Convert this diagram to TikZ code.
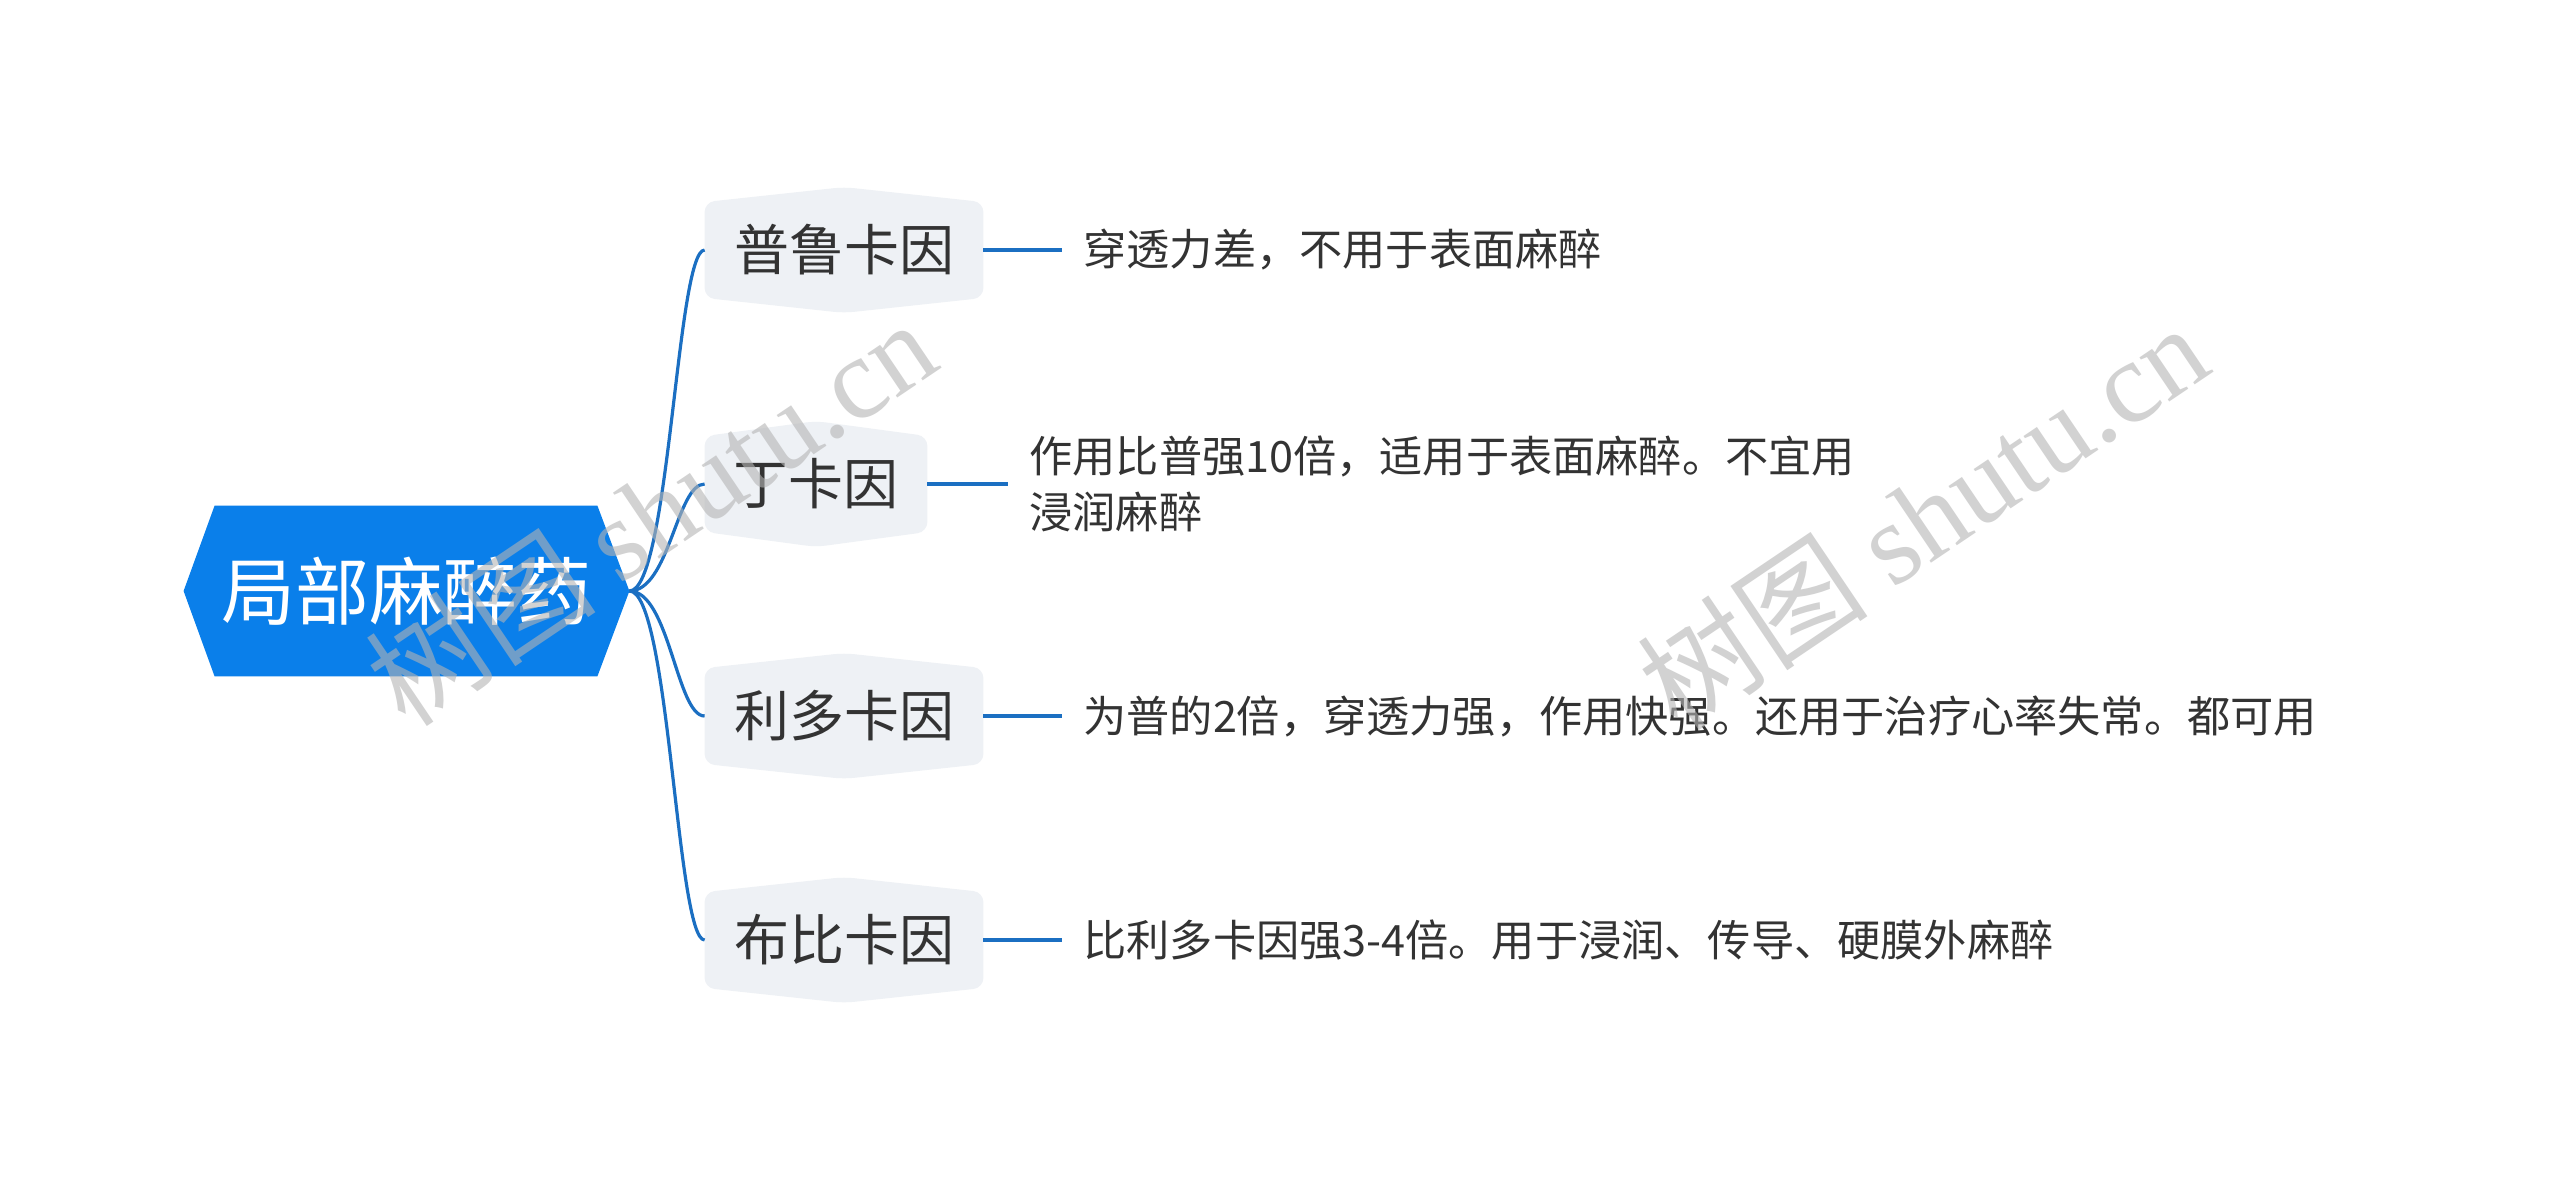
\documentclass[tikz,border=0pt]{standalone}
\usepackage{fontspec}
\setmainfont{Noto Sans CJK SC}
\newfontfamily\wmserif{Liberation Serif}
\usetikzlibrary{backgrounds}
\definecolor{rootblue}{HTML}{0A7FEA}
\definecolor{nodegray}{HTML}{EEF1F5}
\definecolor{linkblue}{HTML}{1B6FC2}
\definecolor{txt}{HTML}{333333}
\definecolor{wm}{HTML}{B4B4B4}
\newcommand\brshape[1]{%
  \fill[nodegray, rounded corners=5pt] (#1.west) -- (#1.north west) -- ([yshift=7.5pt]#1.north) -- (#1.north east) -- (#1.south east) -- ([yshift=-7.5pt]#1.south) -- (#1.south west) -- cycle;}
\begin{document}
\begin{tikzpicture}[x=0.5pt,y=-0.5pt,
  rootnode/.style={inner sep=0pt, minimum width=222.5pt, minimum height=85pt, text=white, font=\fontsize{37}{40}\selectfont},
  branch/.style={inner sep=0pt, minimum height=47.5pt, text=txt, font=\fontsize{27.5}{30}\selectfont},
  detail/.style={anchor=west, inner ysep=0pt, inner xsep=10.5pt, text=txt, font=\fontsize{21.6}{28}\selectfont, align=left},
  link/.style={draw=linkblue, line width=1.6pt},
  curve/.style={draw=linkblue, line width=1.6pt},
  watermark/.style={rotate=34, text=wm, opacity=0.6, font=\fontsize{58}{60}\selectfont}
]
\useasboundingbox (0,0) rectangle (2560,1185);

\node[rootnode] (root) at (406.5,591) {局部麻醉药};

\node[branch, minimum width=139pt] (b1) at (844,250) {普鲁卡因};
\node[branch, minimum width=111pt] (b2) at (816,484) {丁卡因};
\node[branch, minimum width=139pt] (b3) at (844,716) {利多卡因};
\node[branch, minimum width=139pt] (b4) at (844,940) {布比卡因};

\node[detail] (d1) at (1062,250) {穿透力差，不用于表面麻醉};
\node[detail] (d2) at (1008,484) {作用比普强10倍，适用于表面麻醉。不宜用\\浸润麻醉};
\node[detail] (d3) at (1062,716) {为普的2倍，穿透力强，作用快强。还用于治疗心率失常。都可用};
\node[detail] (d4) at (1062,940) {比利多卡因强3-4倍。用于浸润、传导、硬膜外麻醉};

\begin{scope}[on background layer]
  \fill[white] (0,0) rectangle (2560,1185);
  \fill[rootblue] (root.west) -- ([xshift=15.5pt]root.north west) -- ([xshift=-16pt]root.north east) -- (root.east) -- ([xshift=-16pt]root.south east) -- ([xshift=15.5pt]root.south west) -- cycle;
  \brshape{b1}
  \brshape{b2}
  \brshape{b3}
  \brshape{b4}
\end{scope}

\foreach \b in {b1,b2,b3,b4}{
  \draw[curve] (root.east) .. controls +(40,0) and +(-28,0) .. (\b.west);
}
\draw[link] (b1.east) -- (d1.west);
\draw[link] (b2.east) -- (d2.west);
\draw[link] (b3.east) -- (d3.west);
\draw[link] (b4.east) -- (d4.west);

\node[watermark] (wm1) at (650,512) {树图 {\wmserif shutu.cn}};
\node[watermark] (wm2) at (1922,516) {树图 {\wmserif shutu.cn}};
\end{tikzpicture}
\end{document}
